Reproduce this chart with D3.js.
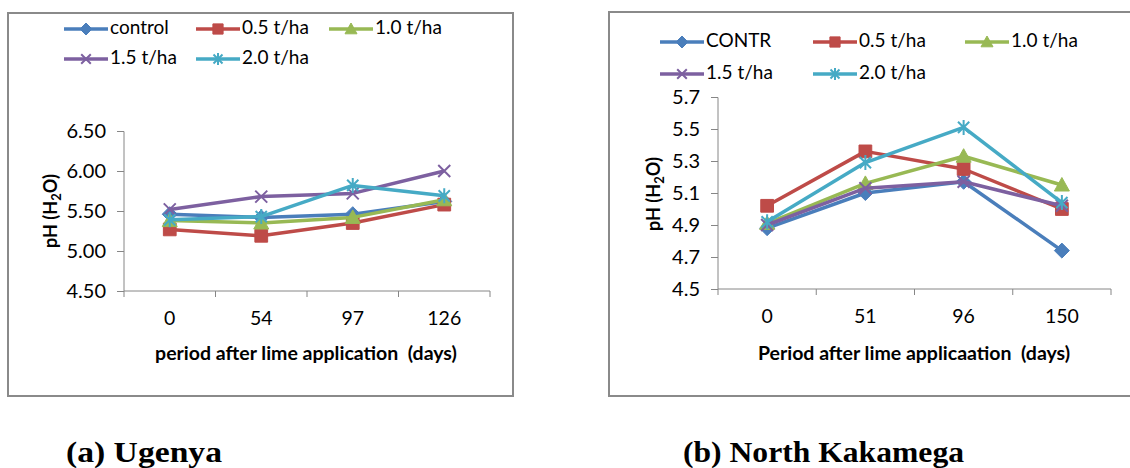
<!DOCTYPE html>
<html>
<head>
<meta charset="utf-8">
<script src="https://cdn.jsdelivr.net/npm/d3@7"></script>
<style>
  body { margin: 0; background: #fff; }
  svg { display: block; }
</style>
</head>
<body>
<div id="chart"></div>
<script>
// data
let ugenyaDays = ["0", "54", "97", "126"];
let kakamegaDays = ["0", "51", "96", "150"];

let ugenyaNames = ["control", "0.5 t/ha", "1.0 t/ha", "1.5 t/ha", "2.0 t/ha"];
let kakamegaNames = ["CONTR", "0.5 t/ha", "1.0 t/ha", "1.5 t/ha", "2.0 t/ha"];

let ugenyaControl = [5.46, 5.42, 5.46, 5.62];
let ugenya05 = [5.27, 5.19, 5.35, 5.58];
let ugenya10 = [5.38, 5.35, 5.42, 5.64];
let ugenya15 = [5.52, 5.68, 5.72, 6.00];
let ugenya20 = [5.39, 5.43, 5.82, 5.69];

let kakaControl = [4.88, 5.10, 5.17, 4.74];
let kaka05 = [5.02, 5.36, 5.25, 5.00];
let kaka10 = [4.91, 5.16, 5.33, 5.15];
let kaka15 = [4.90, 5.13, 5.17, 5.02];
let kaka20 = [4.92, 5.29, 5.51, 5.04];

let ugenyaTicks = [4.5, 5.0, 5.5, 6.0, 6.5];
let kakaTicks = [4.5, 4.7, 4.9, 5.1, 5.3, 5.5, 5.7];

let colors = ["#4a7ebb", "#be4b48", "#98b954", "#7d60a0", "#46aac5"];
let markers = ["diamond", "square", "triangle", "x", "star"];

let width = 1130, height = 468;
let font = "Lato, 'Open Sans', sans-serif";

let svg = d3.select("#chart").append("svg")
    .attr("width", width)
    .attr("height", height);

svg.append("rect").attr("width", width).attr("height", height).attr("fill", "#fff");

function markerPath(type, s) {
    let p = d3.path();
    if (type == "diamond") {
        p.moveTo(0, -s); p.lineTo(s, 0); p.lineTo(0, s); p.lineTo(-s, 0); p.closePath();
    } else if (type == "square") {
        p.rect(-s * 0.85, -s * 0.85, s * 1.7, s * 1.7);
    } else if (type == "triangle") {
        p.moveTo(0, -s); p.lineTo(s, s * 0.8); p.lineTo(-s, s * 0.8); p.closePath();
    } else if (type == "x") {
        let a = s * 0.8;
        p.moveTo(-a, -a); p.lineTo(a, a); p.moveTo(-a, a); p.lineTo(a, -a);
    } else {
        let a = s * 0.75;
        p.moveTo(-a, -a); p.lineTo(a, a); p.moveTo(-a, a); p.lineTo(a, -a);
        p.moveTo(0, -s); p.lineTo(0, s);
    }
    return p.toString();
}

function drawMarker(g, type, color, x, y, s) {
    let filled = (type == "diamond" || type == "square" || type == "triangle");
    g.append("path")
        .attr("transform", `translate(${x},${y})`)
        .attr("d", markerPath(type, s))
        .attr("fill", filled ? color : "none")
        .attr("stroke", color)
        .attr("stroke-width", filled ? 1 : 2);
}

function drawPanel(cfg) {
    let g = svg.append("g");

    g.append("rect")
        .attr("x", cfg.box[0]).attr("y", cfg.box[1])
        .attr("width", cfg.box[2]).attr("height", cfg.box[3])
        .attr("fill", "none")
        .attr("stroke", "#8a8a8a")
        .attr("stroke-width", 2);

    let x = d3.scaleBand().domain(cfg.days).range([cfg.left, cfg.right]);
    let y = d3.scaleLinear().domain([cfg.ticks[0], cfg.ticks[cfg.ticks.length - 1]])
        .range([cfg.bottom, cfg.top]);

    // y axis
    let yAxis = g.append("g")
        .attr("transform", `translate(${cfg.left},0)`)
        .call(d3.axisLeft(y).tickValues(cfg.ticks).tickSize(7).tickPadding(11)
            .tickFormat(d3.format(cfg.fmt)));
    yAxis.select(".domain").attr("stroke", "#868686").attr("d", `M-7,${cfg.top}.5H0V${cfg.bottom}`);
    yAxis.selectAll(".tick line").attr("stroke", "#868686");
    yAxis.selectAll(".tick text")
        .attr("font-family", font).attr("font-size", 20).attr("fill", "#000");

    // x axis, ticks sit between categories
    let xAxis = g.append("g").attr("transform", `translate(0,${cfg.bottom})`);
    xAxis.append("line")
        .attr("x1", cfg.left).attr("x2", cfg.right)
        .attr("stroke", "#868686");
    let edges = cfg.days.map(d => x(d)).concat([cfg.right]);
    xAxis.selectAll(".edge").data(edges).enter().append("line")
        .attr("x1", d => d).attr("x2", d => d)
        .attr("y1", 0).attr("y2", 6)
        .attr("stroke", "#868686");
    xAxis.selectAll(".lab").data(cfg.days).enter().append("text")
        .attr("x", d => x(d) + x.bandwidth() / 2)
        .attr("y", 29)
        .attr("text-anchor", "middle")
        .attr("dominant-baseline", "middle")
        .attr("font-family", font).attr("font-size", 19.5)
        .text(d => d);

    // titles
    g.append("text")
        .attr("x", cfg.xTitleX).attr("y", 355)
        .attr("text-anchor", "middle")
        .attr("dominant-baseline", "middle")
        .attr("font-family", font).attr("font-size", 19.5).attr("font-weight", "bold")
        .attr("xml:space", "preserve")
        .text(cfg.xTitle);

    let yt = g.append("text")
        .attr("transform", `translate(${cfg.yTitleX},${cfg.yTitleY}) rotate(-90)`)
        .attr("text-anchor", "middle")
        .attr("font-family", font).attr("font-size", 18).attr("font-weight", "bold");
    yt.append("tspan").text("pH (H");
    yt.append("tspan").attr("font-size", 13).attr("dy", 4).text("2");
    yt.append("tspan").attr("dy", -4).text("O)");

    // series
    let line = d3.line().x((d, i) => x(cfg.days[i]) + x.bandwidth() / 2).y(d => y(d));
    cfg.series.forEach(function(vals, k) {
        g.append("path")
            .attr("d", line(vals))
            .attr("fill", "none")
            .attr("stroke", colors[k])
            .attr("stroke-width", 3.5)
            .attr("stroke-linejoin", "round");
        vals.forEach(function(v, i) {
            drawMarker(g, markers[k], colors[k], x(cfg.days[i]) + x.bandwidth() / 2, y(v), 7.5);
        });
    });

    // legend
    cfg.names.forEach(function(name, k) {
        let lx = cfg.legendX[k % 3];
        let ly = cfg.legendY[Math.floor(k / 3)];
        g.append("line")
            .attr("x1", lx).attr("x2", lx + 44)
            .attr("y1", ly).attr("y2", ly)
            .attr("stroke", colors[k]).attr("stroke-width", 3.5);
        drawMarker(g, markers[k], colors[k], lx + 22, ly, 6);
        g.append("text")
            .attr("x", lx + 46).attr("y", ly)
            .attr("dominant-baseline", "middle")
            .attr("font-family", font).attr("font-size", 19)
            .text(name);
    });
}

drawPanel({
    box: [8, 13, 505, 383],
    days: ugenyaDays,
    names: ugenyaNames,
    series: [ugenyaControl, ugenya05, ugenya10, ugenya15, ugenya20],
    ticks: ugenyaTicks,
    fmt: ".2f",
    left: 124, right: 490, top: 131, bottom: 291,
    xTitle: "period after lime application  (days)",
    xTitleX: 306,
    yTitleX: 57, yTitleY: 211,
    legendX: [64, 196, 329],
    legendY: [29, 59]
});

drawPanel({
    box: [609, 12, 600, 384],
    days: kakamegaDays,
    names: kakamegaNames,
    series: [kakaControl, kaka05, kaka10, kaka15, kaka20],
    ticks: kakaTicks,
    fmt: ".1f",
    left: 718, right: 1111, top: 97, bottom: 289,
    xTitle: "Period after lime applicaation  (days)",
    xTitleX: 914,
    yTitleX: 660, yTitleY: 194,
    legendX: [660, 813, 965],
    legendY: [42, 74]
});

// captions
let serif = "'Liberation Serif', 'Times New Roman', serif";
svg.append("text")
    .attr("x", 66).attr("y", 462)
    .attr("font-family", serif)
    .attr("font-size", 29).attr("font-weight", "bold")
    .attr("textLength", 156).attr("lengthAdjust", "spacingAndGlyphs")
    .text("(a) Ugenya");

svg.append("text")
    .attr("x", 683).attr("y", 462)
    .attr("font-family", serif)
    .attr("font-size", 29).attr("font-weight", "bold")
    .attr("textLength", 281).attr("lengthAdjust", "spacingAndGlyphs")
    .text("(b) North Kakamega");
</script>
</body>
</html>
